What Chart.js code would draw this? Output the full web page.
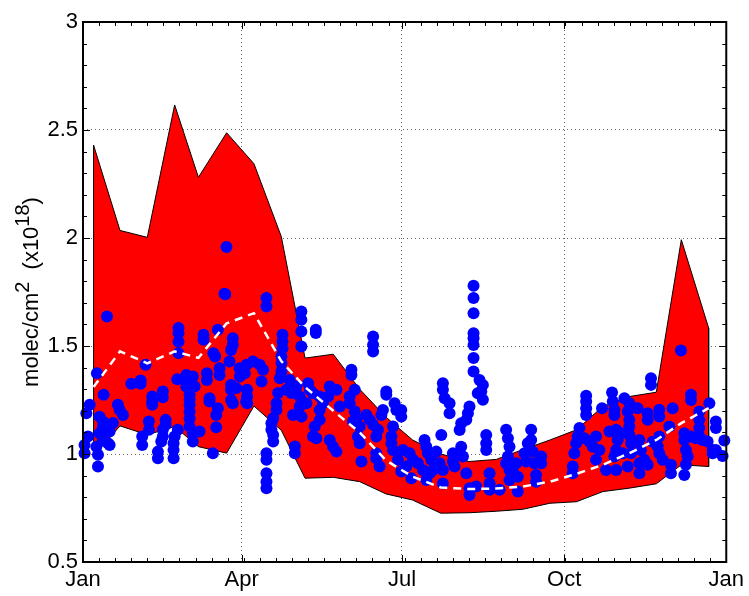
<!DOCTYPE html>
<html>
<head>
<meta charset="utf-8">
<script src="https://cdn.jsdelivr.net/npm/chart.js@4/dist/chart.umd.min.js"></script>
<style>
html,body{margin:0;padding:0;background:#fff;}
canvas{display:block;}
</style>
</head>
<body>
<canvas id="c" width="749" height="596"></canvas>
<script>
// ---- data (day of year, value in 1e18 molec/cm2) ----
const bandDays  = [6, 21, 36.5, 52, 65.5, 81.5, 97, 112.5, 126, 142, 157, 172, 187, 203, 219, 234.5, 249.5, 265, 280, 295, 310, 325.3, 339.5, 355];
const bandUpper = [2.43, 2.035, 2.003, 2.616, 2.281, 2.487, 2.344, 2.007, 1.444, 1.462, 1.30, 1.17, 1.065, 1.0, 0.965, 0.975, 1.02, 1.065, 1.112, 1.22, 1.266, 1.286, 1.992, 1.583];
const bandLower = [0.99, 1.13, 1.089, 1.127, 1.034, 1.004, 1.222, 1.11, 0.888, 0.892, 0.872, 0.815, 0.787, 0.726, 0.728, 0.735, 0.744, 0.772, 0.779, 0.826, 0.842, 0.862, 0.95, 0.942];
const meanVals  = [1.31, 1.475, 1.42, 1.475, 1.445, 1.605, 1.652, 1.43, 1.31, 1.2, 1.1, 0.97, 0.895, 0.845, 0.838, 0.84, 0.849, 0.872, 0.908, 0.95, 1.004, 1.065, 1.143, 1.212];

const obsPoints = [
[80.3,1.742],[81.4,1.958],[80.7,1.74],[13.6,1.637],
[54.2,1.583],[54.2,1.56],[54.2,1.52],[54.2,1.467],[68.4,1.552],[68.4,1.529],[76.5,1.575],
[85,1.536],[85,1.505],[84,1.482],[74,1.467],[75,1.451],[83.1,1.428],[35.5,1.413],[7.9,1.374],
[27.4,1.325],[32.7,1.34],[32.7,1.325],[53.5,1.346],[58.6,1.366],[58.6,1.336],[58.6,1.312],[62.3,1.359],[63.3,1.312],
[70.3,1.374],[70.3,1.343],[77.5,1.397],[77.5,1.366],[88.8,1.397],[90.7,1.389],[84,1.32],[84,1.297],[87,1.305],
[45.3,1.289],[45.3,1.263],[39.3,1.266],[39.3,1.243],[39.3,1.228],[11.7,1.274],
[60.5,1.274],[60.5,1.251],[60.5,1.228],[60.5,1.197],[60.5,1.166],[71.8,1.258],[71.8,1.243],[84,1.25],[85,1.235],
[3.8,1.228],[1.9,1.189],[19.8,1.228],[20.8,1.204],[22.7,1.181],
[9.4,1.173],[11.3,1.15],[13.2,1.127],[15.1,1.104],[17,1.143],[76.5,1.212],[75.6,1.181],[92.6,1.243],
[37.4,1.15],[37.4,1.112],[46.9,1.158],[46.9,1.135],[45.3,1.112],[45.3,1.081],[44.4,1.058],
[53.8,1.112],[52,1.081],[51.4,1.05],[51.4,1.019],[51.4,0.98],[60.5,1.127],[62.3,1.096],[62.3,1.058],[66.1,1.104],
[33.6,1.081],[33.6,1.042],[42.5,1.011],[42.5,0.98],[73.7,1.004],[75.6,1.124],
[2.8,1.081],[0.9,1.042],[0.9,1.004],[7.6,1.034],[8.5,0.996],[8.5,0.942],[11.3,1.065],[14.2,1.05],[15.1,1.042],[9.4,1.096],[11.3,1.127],
[104.1,1.722],[104.1,1.683],[123.9,1.66],[123.9,1.621],[123.9,1.567],[123.9,1.498],[132.1,1.575],[132.1,1.56],
[164.6,1.544],[164.6,1.506],[164.6,1.475],[113.2,1.552],[113.2,1.521],[113.2,1.49],
[112.6,1.451],[112.6,1.421],[112.6,1.382],[111.7,1.351],
[92.8,1.413],[96.5,1.428],[100.3,1.413],[102.2,1.39],[101.3,1.336],[89,1.359],[91.8,1.374],
[93.1,1.297],[93.1,1.266],[93.1,1.235],[152.3,1.39],[152.3,1.366],[172.1,1.289],[172.1,1.274],
[117.3,1.343],[115.4,1.297],[118.3,1.282],[121.1,1.312],[123,1.266],[127.7,1.328],[128.7,1.297],[126.8,1.235],[123,1.22],[119.2,1.181],[124,1.173],
[110.7,1.282],[109.8,1.235],[109.8,1.204],[107.9,1.166],[106.9,1.142],[106.9,1.112],[107.9,1.088],[107.9,1.058],
[104.1,1.003],[104.1,0.973],[104.1,0.911],[104.1,0.872],[104.1,0.841],[120.2,1.035],[120.2,1.003],
[130.5,1.281],[134.3,1.266],[136.2,1.235],[134.3,1.204],[134.3,1.158],[131.5,1.127],[130.5,1.081],[132.4,1.073],
[140,1.312],[139.1,1.266],[143.8,1.297],[145.7,1.22],[140,1.065],[141.9,1.034],[143.8,1.011],
[151.3,1.266],[151.3,1.235],[154.2,1.297],[154.2,1.197],[155.1,1.166],[157,1.127],[153.2,1.15],
[160.8,1.181],[162.7,1.158],[164.6,1.135],[167.4,1.112],[166.4,1.081],[157,1.05],[156,1.081],[158,0.965],[168.3,0.942],
[170.2,1.204],[169.3,1.181],[176.8,1.235],[177.8,1.204],[175.9,1.127],[175,1.081],[175,1.05],[175.9,1.019],
[178.7,0.973],[180.6,0.919],[166.4,1.003],[166.4,0.98],
[221.6,1.779],[221.6,1.722],[221.6,1.652],[221.6,1.559],[221.6,1.536],[221.6,1.505],[221.6,1.444],[221.6,1.382],
[225,1.343],[226.9,1.32],[226,1.289],[224,1.281],[226.9,1.251],[219.3,1.22],[218.4,1.189],[217.5,1.158],[214.6,1.142],[213.7,1.111],
[204.2,1.328],[204.2,1.297],[205.2,1.258],[208,1.235],[208,1.189],[180.6,1.204],[180.6,1.173],
[228.8,1.088],[228.8,1.05],[228.8,1.019],[193.8,1.065],[194.8,1.034],[195.7,1.003],[197.6,0.973],[200.5,1.011],[203.3,1.088],
[181.6,1.019],[185.3,1.003],[187.2,0.973],[190,0.957],[192.9,0.926],[194.8,0.88],[196.7,0.911],[198.6,0.926],[202.3,0.957],[204.2,0.926],[204.2,0.864],[186.3,0.888],[183.4,0.942],
[209.9,1.003],[209.9,0.965],[210.8,0.942],[214.6,1.034],[215.6,0.988],[217.5,0.911],[219.3,0.841],[219.3,0.81],[223.1,0.849],
[230.7,0.911],[230.7,0.864],[230.7,0.834],[236.4,0.834],
[240.1,1.112],[241.1,1.073],[242,1.034],[241.1,0.988],[240.1,0.957],[242,0.926],[245.8,0.957],[246.7,0.895],[246.7,0.826],[243.9,0.918],[242,0.88],
[254.3,1.112],[254.3,1.065],[255.2,1.011],[256.2,0.957],[257.1,0.903],[257.1,0.872],[252.4,1.05],[250.5,1.003],[251.5,0.965],[260,0.988],[260,0.957],
[339.3,1.479],[322.3,1.351],[322.3,1.32],[345,1.274],[345,1.25],[285.5,1.27],[285.5,1.243],[285.5,1.212],[285.5,1.181],[294.5,1.212],
[300.2,1.285],[300.6,1.243],[301.5,1.205],[301.5,1.181],[307.2,1.258],[310,1.235],[311,1.22],[314.7,1.212],[309.1,1.197],
[320.4,1.189],[320.4,1.158],[327,1.205],[327,1.174],[334.6,1.212],[355.4,1.235],
[349.7,1.197],[349.7,1.158],[349.7,1.12],[349.7,1.081],[359.1,1.15],[359.1,1.12],[363.9,1.062],[362.9,0.991],[359.1,1.019],
[281.7,1.12],[280.7,1.081],[279.8,1.05],[278.8,1.003],[277.9,0.942],[277.9,0.911],
[284.5,1.073],[287.4,1.058],[291.1,1.081],[289.2,1.034],[291.1,0.973],[293,1.019],
[298.7,1.104],[302.5,1.112],[305.3,1.096],[303.4,1.065],[302.5,1.019],[301.5,0.988],[306.2,1.003],
[310,1.158],[310,1.127],[310,1.088],[311,1.05],[311,1.003],[309.1,0.942],
[315.7,1.065],[316.6,1.019],[315.7,0.957],[315.7,0.911],[318.5,0.973],[320.4,0.95],[296.8,0.926],[302.5,0.926],
[323.2,1.057],[326.1,1.035],[327,1.003],[328.9,0.973],[327,1.081],[333.6,0.95],[333.6,0.911],[332.7,1.127],
[341.2,1.096],[341.2,1.065],[342.1,1.019],[343.1,0.988],[342.1,0.95],[341.2,0.903],
[345,1.081],[347.8,1.073],[351.6,1.065],[354.4,1.058],[357.3,1.019],[357.3,1.003]
];

const xTickDays   = [0, 90, 181, 273, 365];
const xTickLabels = ['Jan', 'Apr', 'Jul', 'Oct', 'Jan'];
const yTickVals   = [0.5, 1, 1.5, 2, 2.5, 3];
const yTickLabels = ['0.5', '1', '1.5', '2', '2.5', '3'];

// ---- build datasets ----
const upperPts = bandDays.map((d,i)=>({x:d,y:bandUpper[i]}));
const lowerPts = bandDays.map((d,i)=>({x:d,y:bandLower[i]}));
const outlinePts = upperPts.concat(lowerPts.slice().reverse(), [upperPts[0]]);
const meanPts = bandDays.map((d,i)=>({x:d,y:meanVals[i]}));
const obsPts = obsPoints.map(p=>({x:p[0],y:p[1]}));

const FONT = "'Liberation Sans', Arial, Helvetica, sans-serif";

const xMin = xTickDays[0], xMax = xTickDays[xTickDays.length-1];
const yMin = yTickVals[0], yMax = yTickVals[yTickVals.length-1];

const frameAndTitle = {
  id: 'frameAndTitle',
  afterDraw(chart){
    const ctx = chart.ctx, a = chart.chartArea, xs = chart.scales.x, ys = chart.scales.y;
    ctx.save();
    ctx.strokeStyle = '#000';
    ctx.lineWidth = 1;
    ctx.beginPath();
    const nxMinor = 40;
    for (let k=0;k<=nxMinor;k++){
      const v = xMin + (xMax-xMin)*k/nxMinor;
      const px = Math.round(xs.getPixelForValue(v))+0.5;
      ctx.moveTo(px,a.bottom); ctx.lineTo(px,a.bottom-4);
      ctx.moveTo(px,a.top); ctx.lineTo(px,a.top+4);
    }
    xTickDays.forEach(v=>{
      const px = Math.round(xs.getPixelForValue(v))+0.5;
      ctx.moveTo(px,a.bottom); ctx.lineTo(px,a.bottom-7);
      ctx.moveTo(px,a.top); ctx.lineTo(px,a.top+7);
    });
    const nyMinor = Math.round((yMax-yMin)/0.1);
    for (let k=0;k<=nyMinor;k++){
      const v = yMin + 0.1*k;
      const py = Math.round(ys.getPixelForValue(v))+0.5;
      ctx.moveTo(a.left,py); ctx.lineTo(a.left+4,py);
      ctx.moveTo(a.right,py); ctx.lineTo(a.right-4,py);
    }
    yTickVals.forEach(v=>{
      const py = Math.round(ys.getPixelForValue(v))+0.5;
      ctx.moveTo(a.left,py); ctx.lineTo(a.left+7,py);
      ctx.moveTo(a.right,py); ctx.lineTo(a.right-7,py);
    });
    ctx.stroke();
    ctx.lineWidth = 2;
    ctx.strokeRect(a.left, a.top, a.right-a.left, a.bottom-a.top);

    // y axis title with superscripts
    const segs = [['molec/cm',false],['2',true],['  (x10',false],['18',true],[')',false]];
    const big = '22px ' + FONT, sup = '20px ' + FONT;
    let total = 0;
    segs.forEach(s=>{ ctx.font = s[1]?sup:big; total += ctx.measureText(s[0]).width; });
    ctx.translate(38, (a.top+a.bottom)/2);
    ctx.rotate(-Math.PI/2);
    ctx.fillStyle = '#000';
    ctx.textBaseline = 'alphabetic';
    ctx.textAlign = 'left';
    let u = -total/2;
    segs.forEach(s=>{
      ctx.font = s[1]?sup:big;
      ctx.fillText(s[0], u, s[1]?-9:0);
      u += ctx.measureText(s[0]).width;
    });
    ctx.restore();
  }
};

new Chart(document.getElementById('c'), {
  type: 'line',
  data: {
    datasets: [
      { label:'mean', data: meanPts, borderColor:'#ffffff', borderWidth:2.5, borderDash:[8,6],
        pointRadius:0, fill:false, tension:0, order:0 },
      { label:'obs', data: obsPts, showLine:false, pointRadius:6, pointHoverRadius:6,
        pointBackgroundColor:'#0000ff', pointBorderWidth:0, backgroundColor:'#0000ff', borderColor:'#0000ff',
        clip:false, order:1 },
      { label:'outline', data: outlinePts, borderColor:'#000', borderWidth:1, pointRadius:0, fill:false, tension:0, order:2 },
      { label:'upper', data: upperPts, borderWidth:0, borderColor:'rgba(0,0,0,0)', backgroundColor:'#ff0000',
        pointRadius:0, fill:'+1', tension:0, order:3 },
      { label:'lower', data: lowerPts, borderWidth:0, borderColor:'rgba(0,0,0,0)', pointRadius:0, fill:false, tension:0, order:4 }
    ]
  },
  options: {
    responsive:false, animation:false, devicePixelRatio:1,
    layout:{ padding:{ left:0, top:22, right:22, bottom:0 } },
    plugins:{ legend:{display:false}, tooltip:{enabled:false}, title:{display:false} },
    scales:{
      x:{
        type:'linear', min:xMin, max:xMax,
        afterBuildTicks: s => { s.ticks = xTickDays.map(v=>({value:v})); },
        afterFit: s => { s.height = 34; },
        ticks:{ autoSkip:false, maxRotation:0, padding:5, color:'#000', font:{family:FONT, size:22},
                callback:(v,i)=>xTickLabels[i] },
        grid:{ drawTicks:false, lineWidth:1,
               color: c => (c.tick && (c.tick.value===xMin || c.tick.value===xMax)) ? 'rgba(0,0,0,0)' : '#666' },
        border:{ display:false, dash:[1,3] }
      },
      y:{
        type:'linear', min:yMin, max:yMax,
        afterBuildTicks: s => { s.ticks = yTickVals.map(v=>({value:v})); },
        afterFit: s => { s.width = 83; },
        ticks:{ padding:5, color:'#000', font:{family:FONT, size:22},
                callback:(v,i)=>yTickLabels[i] },
        grid:{ drawTicks:false, lineWidth:1,
               color: c => (c.tick && (c.tick.value===yMin || c.tick.value===yMax)) ? 'rgba(0,0,0,0)' : '#666' },
        border:{ display:false, dash:[1,3] }
      }
    }
  },
  plugins:[frameAndTitle]
});
</script>
</body>
</html>
